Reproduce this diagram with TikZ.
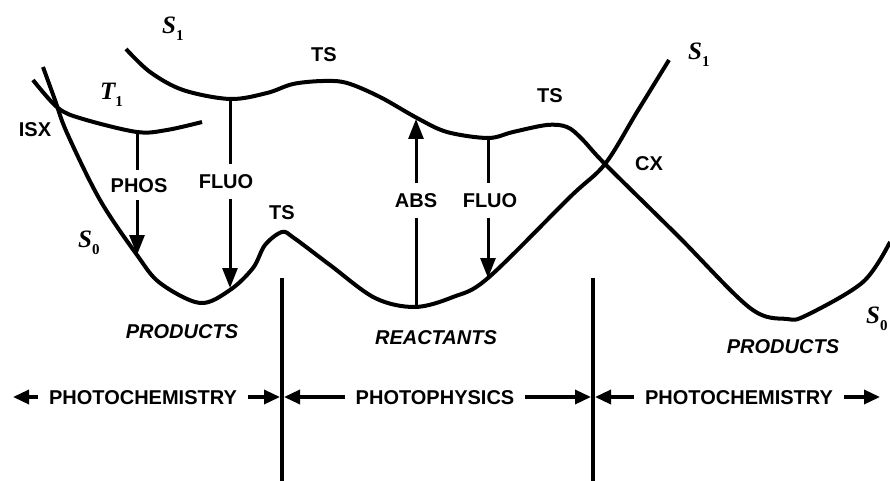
\documentclass[tikz,border=0pt]{standalone}
\usepackage{fontspec}
\setmainfont{Liberation Serif}
\setsansfont{Liberation Sans}
\usetikzlibrary{arrows.meta}
\begin{document}
\begin{tikzpicture}[x=1pt,y=-1pt,
  curve/.style={line width=4pt, line join=round},
  lab/.style={font=\sffamily\bfseries\fontsize{20}{20}\selectfont, inner xsep=0pt, inner ysep=0pt, text height=14pt, text depth=0pt},
  ilab/.style={font=\sffamily\bfseries\itshape\fontsize{20}{20}\selectfont, inner sep=0pt, text height=14pt, text depth=0pt},
  tlab/.style={lab, inner ysep=10pt},
  blab/.style={lab, inner xsep=11pt},
  slab/.style={font=\bfseries\itshape\fontsize{25}{25}\selectfont, inner sep=0pt, anchor=base west},
  trans/.style={line width=3pt},
  transarr/.style={line width=3pt, -{Triangle[length=20pt,width=15pt]}},
  barr/.style={line width=3.4pt, -{Triangle[length=16pt,width=14pt]}},
  divider/.style={line width=3.8pt},
  ]
\useasboundingbox (0,0) rectangle (890,481);
\newcommand{\subsc}[1]{\raisebox{-7pt}{\upshape\fontsize{15}{15}\selectfont #1}}

% potential energy curves
\draw[curve] plot[smooth, tension=0.55] coordinates {(43,67) (55,100) (67,133) (100,200) (137,255) (160,283) (200,303) (230,290) (253,268) (265,245) (282,232) (294,238) (330,265) (375,298) (415,307) (453,297) (488,278) (570,197) (605,164) (637,112) (669,60)};
\draw[curve] plot[smooth, tension=0.55] coordinates {(126,49) (150,72) (183,90) (230,99) (267,93) (293,84) (323,81) (347,83) (380,97) (417,118) (447,132) (488,138) (513,132) (547,125) (567,127) (582,139) (605,164) (678,236) (750,308) (787,319) (807,315) (863,282) (890,242)};
\draw[curve] plot[smooth, tension=0.55] coordinates {(33,80) (58,108) (83,119) (137,132) (167,130) (202,122)};

% dividers
\coordinate (d1t) at (282,278);
\coordinate (d1b) at (282,481);
\coordinate (d2t) at (593,278);
\coordinate (d2b) at (593,481);
\draw[divider] (d1t) -- (d1b);
\draw[divider] (d2t) -- (d2b);

% transitions
\coordinate (t1min) at (137,132);
\coordinate (phostip) at (137,255);
\coordinate (s1minL) at (230,99);
\coordinate (fluoLtip) at (230,288);
\coordinate (s0min) at (416,307);
\coordinate (abstip) at (416,119);
\coordinate (s1minR) at (488,138);
\coordinate (fluoRtip) at (488,278);

\node[lab, inner ysep=8pt] (phos) at (139,185) {PHOS};
\node[tlab] (fluoL) at (226,181.5) {FLUO};
\node[tlab] (abs) at (416,200.5) {ABS};
\node[tlab] (fluoR) at (490,200.5) {FLUO};

\draw[trans] (t1min) -- (t1min |- phos.north);
\draw[transarr] (phostip |- phos.south) -- (phostip);
\draw[trans] (s1minL) -- (s1minL |- fluoL.north);
\draw[transarr] (fluoLtip |- fluoL.south) -- (fluoLtip);
\draw[trans] (s0min) -- (s0min |- abs.south);
\draw[transarr] (abstip |- abs.north) -- (abstip);
\draw[trans] (s1minR) -- (s1minR |- fluoR.north);
\draw[transarr] (fluoRtip |- fluoR.south) -- (fluoRtip);

% labels
\node[lab] (isx) at (35,130) {ISX};
\node[lab] (tsa) at (324,55) {TS};
\node[lab] (tsb) at (550,96) {TS};
\node[lab] (tsc) at (282,212) {TS};
\node[lab] (cx) at (649,164) {CX};
\node[ilab] (prod1) at (182,331) {PRODUCTS};
\node[ilab] (reac) at (436,337) {REACTANTS};
\node[ilab] (prod2) at (783,346) {PRODUCTS};

\node[slab] (s1a) at (162,34) {S\subsc{1}};
\node[slab] (t1) at (100,100) {T\subsc{1}};
\node[slab] (s0a) at (78,247) {S\subsc{0}};
\node[slab] (s1b) at (688,60) {S\subsc{1}};
\node[slab] (s0b) at (866,323) {S\subsc{0}};

% bottom regions
\node[blab] (pcl) at (143,397) {PHOTOCHEMISTRY};
\node[blab] (pp) at (435,397) {PHOTOPHYSICS};
\node[blab] (pcr) at (739,397) {PHOTOCHEMISTRY};
\coordinate (a1) at (13,397);
\coordinate (a2) at (280,397);
\coordinate (a3) at (284,397);
\coordinate (a4) at (591,397);
\coordinate (a5) at (595,397);
\coordinate (a6) at (880,397);
\draw[barr] (pcl.west) -- (a1);
\draw[barr] (pcl.east) -- (a2);
\draw[barr] (pp.west) -- (a3);
\draw[barr] (pp.east) -- (a4);
\draw[barr] (pcr.west) -- (a5);
\draw[barr] (pcr.east) -- (a6);
\end{tikzpicture}
\end{document}
